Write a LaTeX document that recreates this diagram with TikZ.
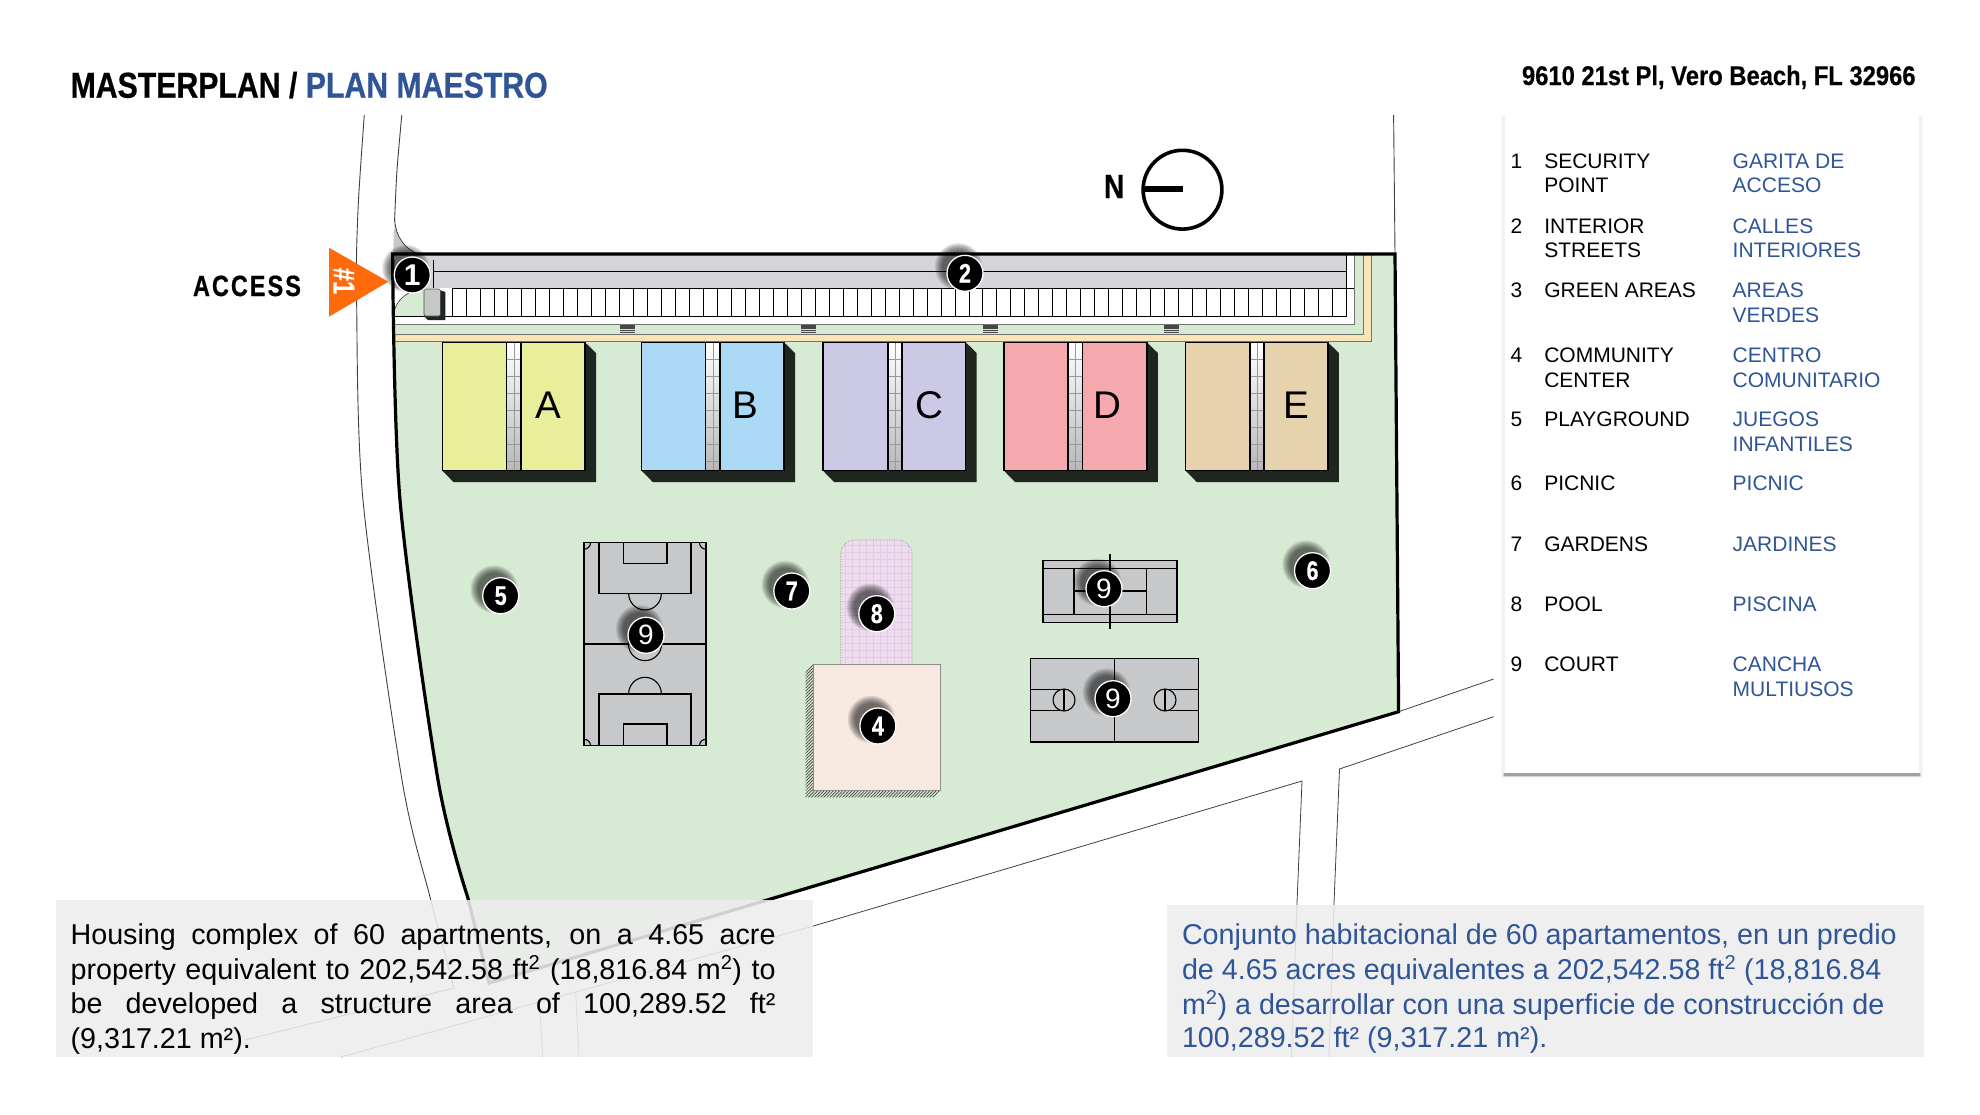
\documentclass[tikz,border=0pt]{standalone}
\usepackage{fontspec}
\setmainfont{Liberation Sans}
\newfontfamily\ttlfont[FakeStretch=0.84,BoldFeatures={FakeBold=0.6}]{Liberation Sans}
\newfontfamily\addrfont[FakeStretch=0.88,BoldFeatures={FakeBold=0.4}]{Liberation Sans}
\newfontfamily\accfont[FakeStretch=0.8,LetterSpace=7,BoldFeatures={FakeBold=0.5}]{Liberation Sans}
\newfontfamily\digfont[FakeStretch=0.8,BoldFeatures={FakeBold=0.5}]{Liberation Sans}
\usetikzlibrary{patterns.meta}
\definecolor{blueTxt}{HTML}{2F5597}
\definecolor{lawn}{HTML}{D7EAD3}
\definecolor{court}{HTML}{C6C8CA}
\definecolor{band}{HTML}{D5D5D9}
\definecolor{sand}{HTML}{FBE5B8}
\definecolor{orangeArrow}{HTML}{FF6A0D}
\definecolor{panelGray}{HTML}{EDEDEE}
\definecolor{shadowDark}{HTML}{1F2620}
\definecolor{bldgA}{HTML}{E9EE9A}
\definecolor{bldgB}{HTML}{ABD9F5}
\definecolor{bldgC}{HTML}{CBC9E6}
\definecolor{bldgD}{HTML}{F5A8AE}
\definecolor{bldgE}{HTML}{E7D2AE}
\definecolor{poolFill}{HTML}{EFDDEF}
\definecolor{poolGrid}{HTML}{E2CCE4}
\definecolor{centerFill}{HTML}{F7E9DF}
\tikzset{
  txt/.style={anchor=base west,inner sep=0pt,outer sep=0pt},
  legk/.style={txt,font=\fontsize{21}{24}\selectfont},
  legb/.style={legk,text=blueTxt},
  body/.style={txt,font=\fontsize{28.7}{34}\selectfont},
  roadline/.style={draw=black!75,line width=.9pt},
  courtline/.style={draw=black,line width=1.4pt},
  numdot/.style={circle,fill=black,draw=white,line width=1.3pt,minimum size=36pt,inner sep=0pt,text=white}
}
\newcommand{\building}[8]{%
  \fill[shadowDark] (#4,342.3)--(#4+11,353)--(#4+11,482)--(#1+11,482)--(#1,470.7)--cycle;
  \fill[#5] (#1,342.3) rectangle (#4,470.7);
  \shade[top color=white,bottom color=black!28] (#2,342.3) rectangle (#3,470.7);
  \foreach \yy in {359,376,393,410,427,444,461}
    \draw[black!40,line width=.5pt] (#2,\yy)--(#3,\yy);
  \draw[black!40,line width=.5pt] ({(#2+#3)/2},342.3)--({(#2+#3)/2},470.7);
  \draw[black,line width=1.5pt] (#2,342.3)--(#2,470.7) (#3,342.3)--(#3,470.7);
  \draw[black,line width=1.5pt] (#1,342.3) rectangle (#4,470.7);
  \node[inner sep=0pt,font=\fontsize{38.6}{40}\selectfont] (#8) at (#7,405) {#6};
}
\newcommand{\stair}[1]{%
  \fill[black!72] (#1,325) rectangle (#1+14.5,333);
  \draw[white!85!black,line width=.6pt] (#1,329)--(#1+14.5,329) (#1,331.2)--(#1+14.5,331.2);
}
\newcommand{\marker}[4]{%
  \foreach \rr in {24,23.5,23,22.5,22,21.5,21,20.5,20,19.5,19,18.5,18,17.5,17,16.5,16}
    \fill[black,fill opacity=.045] (#2-6.5,#3-6.5) circle (\rr);
  \node[numdot,font=\fontsize{27}{28}\selectfont\bfseries] (#1) at (#2,#3) {#4};
}
\begin{document}
\begin{tikzpicture}[x=1pt,y=-1pt]
\useasboundingbox (0,0) rectangle (1980,1114);
\fill[white] (0,0) rectangle (1980,1114);

% road lines
\draw[roadline] plot[smooth] coordinates {(364.3,115)(358,210)(356.6,300)(363,500)(402,780)(430,897)(454,988)} -- (245,1040);
\draw[roadline] plot[smooth] coordinates {(401.8,115)(397,170)(394.5,222)};
\draw[roadline] (1393.6,115)--(1395,254);
\draw[roadline,line width=.8pt] (1398.6,711.7)--(1493.6,679);
\draw[roadline,line width=.8pt] (1493.6,716.7)--(1339.5,769)--(1334,903)--(1329,1057);
\draw[roadline,line width=.8pt] (341,1057)--(810,927)--(1302,781)--(1297,903)--(1291.5,1057);
\draw[roadline,line width=.6pt] (540,1013)--(542.6,1057);
\draw[roadline,line width=.6pt] (575.7,993)--(579,1057);
% fillet at access
\fill[black!22] (394.7,220) .. controls (396,238) and (406,250) .. (418.6,254) -- (393,254) -- cycle;
\draw[black!80,line width=.7pt] (394.7,220) .. controls (396,238) and (406,250) .. (418.6,254);

% the plot
\fill[lawn] (1395,254)--(1398.6,711.7)--(489,983)-- plot[smooth] coordinates {(467.6,897)(438,780)(400,500)(392.6,254)} --cycle;

% street strips
\fill[sand] (394,254) rectangle (1371,341.5);
\draw[black!55,line width=.8pt] (1371,254)--(1371,341.5)--(394,341.5);
\fill[lawn] (394,254) rectangle (1363,334);
\draw[black!55,line width=.8pt] (1363,254)--(1363,334)--(394,334);
\fill[white] (394,254) rectangle (1354,324.5);
\draw[black!55,line width=.8pt] (1354,254)--(1354,324.5)--(394,324.5);
\fill[band] (394,254) rectangle (1346,288);
\draw[black,line width=.7pt] (433,271.7)--(1346,271.7);
\draw[black,line width=.9pt] (433,260)--(433,288);
\draw[black,line width=.7pt] (1346,254)--(1346,316.7);
\draw[black,line width=.7pt] (452,288)--(1354,288);
\fill[lawn] (394,288) rectangle (424,316.7);
\fill[white] (394,288) -- (411,292) .. controls (402,296) and (395,304) .. (394,313) -- cycle;
\draw[black!80,line width=.6pt] (411,292) .. controls (402,296) and (395,304) .. (394,313);
\draw[black,line width=.7pt] (394,316.7)--(1346,316.7);
\foreach \i in {0,...,64}
  \draw[black,line width=.8pt] ({452+\i*13.97},288)--({452+\i*13.97},316.7);
% guard booth
\fill[shadowDark] (436,289)--(445.4,292)--(445.4,320)--(428,320)--(424,316)--cycle;
\fill[black!22,draw=black!70,line width=.6pt,rounded corners=1.5pt] (424,289) rectangle (440.5,316);
\stair{620}\stair{801}\stair{983}\stair{1164}

% buildings
\building{442.4}{506.7}{521.2}{585}{bldgA}{A}{548.8}{bldA}
\building{641.7}{705.7}{720}{784}{bldgB}{B}{745}{bldB}
\building{823}{888}{902}{965.7}{bldgC}{C}{929}{bldC}
\building{1004}{1068}{1082.5}{1146.8}{bldgD}{D}{1107.9}{bldD}
\building{1185.7}{1250}{1264}{1327.9}{bldgE}{E}{1296.8}{bldE}

% soccer field
\fill[court] (584,542.7) rectangle (706,745.7);
\begin{scope}[courtline]
\draw (584,542.7) rectangle (706,745.7);
\draw (584,644)--(706,644);
\draw (599,542.7)--(599,593.3)--(691,593.3)--(691,542.7);
\draw (623.6,542.7)--(623.6,563.3)--(667,563.3)--(667,542.7);
\draw (599,745.7)--(599,694)--(691,694)--(691,745.7);
\draw (623.6,745.7)--(623.6,724)--(667,724)--(667,745.7);
\draw[line width=1.1pt] (628.6,593.3) .. controls (628.6,602.5) and (636,610) .. (645,610) .. controls (654,610) and (661.4,602.5) .. (661.4,593.3);
\draw[line width=1.1pt] (628.6,694) .. controls (628.6,684.8) and (636,677.3) .. (645,677.3) .. controls (654,677.3) and (661.4,684.8) .. (661.4,694);
\draw[line width=1.1pt] (645,644) circle (16.6);
\draw[line width=1.1pt] (590.5,542.7) .. controls (590.5,546.3) and (587.6,549.2) .. (584,549.2);
\draw[line width=1.1pt] (699.5,542.7) .. controls (699.5,546.3) and (702.4,549.2) .. (706,549.2);
\draw[line width=1.1pt] (590.5,745.7) .. controls (590.5,742.1) and (587.6,739.2) .. (584,739.2);
\draw[line width=1.1pt] (699.5,745.7) .. controls (699.5,742.1) and (702.4,739.2) .. (706,739.2);
\end{scope}

% pool
\begin{scope}
\clip[rounded corners=14pt] (840.7,690) -- (840.7,540) -- (912,540) -- (912,690) -- cycle;
\fill[poolFill] (835,535) rectangle (920,670);
\foreach \gx in {845,852,...,912} \draw[poolGrid,line width=.5pt] (\gx,535)--(\gx,670);
\foreach \gy in {545,552,...,664} \draw[poolGrid,line width=.5pt] (835,\gy)--(920,\gy);
\end{scope}
\draw[black!45,line width=.6pt,rounded corners=14pt,densely dotted] (840.7,664) -- (840.7,540) -- (912,540) -- (912,664);

% community center
\fill[pattern={Lines[angle=45,distance=2.2pt,line width=.7pt]},pattern color=black!75] (813,664)--(805.7,671)--(805.7,797.3)--(934,797.3)--(940.4,790)--cycle;
\fill[centerFill,draw=black!45,line width=.7pt] (813,664) rectangle (940.4,790);

% tennis
\fill[court] (1043,560.7) rectangle (1176.8,622.7);
\begin{scope}[courtline]
\draw (1043,560.7) rectangle (1176.8,622.7);
\draw (1043,568.7)--(1176.8,568.7) (1043,614.7)--(1176.8,614.7);
\draw (1074,568.7)--(1074,614.7) (1146.4,568.7)--(1146.4,614.7);
\draw (1074,591)--(1146.4,591);
\draw (1110,554)--(1110,629.3);
\end{scope}

% basketball
\fill[court] (1030.4,658.3) rectangle (1198.6,742);
\begin{scope}[courtline]
\draw (1030.4,658.3) rectangle (1198.6,742);
\draw (1114.3,658.3)--(1114.3,742);
\draw (1030.4,689.3)--(1064,689.3) (1030.4,710.3)--(1064,710.3);
\draw (1198.6,689.3)--(1162,689.3) (1198.6,710.3)--(1162,710.3);
\draw[line width=1.1pt] (1064,700) circle (11);
\draw[line width=1.1pt] (1165,700) circle (11);
\draw[line width=1.1pt] (1064,689)--(1064,711) (1165,689)--(1165,711);
\end{scope}

% outline of the plot
\draw[black,line width=3.2pt,line join=miter] (392.6,254)--(1395,254)--(1398.6,711.7)--(489,983)-- plot[smooth] coordinates {(467.6,897)(438,780)(400,500)(392.6,254)} --cycle;

% markers
\marker{mOne}{412.3}{275}{\fontsize{30}{30}\selectfont 1}
\marker{mTwo}{965}{273.3}{\digfont 2}
\marker{mFive}{500.7}{595.7}{\digfont 5}
\marker{mNineA}{646}{635.3}{\fontsize{28}{28}\selectfont\mdseries 9}
\marker{mSeven}{791.8}{591}{\digfont 7}
\marker{mEight}{876.8}{613.7}{\digfont 8}
\marker{mFour}{877.9}{726}{\digfont 4}
\marker{mNineB}{1104}{588.7}{\fontsize{28}{28}\selectfont\mdseries 9}
\marker{mSix}{1312.5}{570.7}{\digfont 6}
\marker{mNineC}{1113}{698.7}{\fontsize{28}{28}\selectfont\mdseries 9}

% access
\fill[orangeArrow] (329,247.7)--(388.3,281.7)--(329,316.7)--cycle;
\node[inner sep=0pt,rotate=-90,text=white,font=\fontsize{30}{32}\selectfont\digfont\bfseries] (accNum) at (344,281) {\#1};
\node[txt,font=\fontsize{29.3}{32}\selectfont\accfont\bfseries] (accLabel) at (193,296) {ACCESS};

% north
\node[txt,font=\fontsize{33.5}{36}\selectfont\ttlfont\bfseries] (northN) at (1104,198) {N};
\draw[black,line width=3.6pt] (1182.5,189.7) circle (39.4);
\draw[black,line width=5.5pt] (1142,189)--(1182.5,189);

% titles
\node[txt,font=\fontsize{36}{40}\selectfont\ttlfont\bfseries] (title) at (70.6,97.7) {MASTERPLAN / \textcolor{blueTxt}{PLAN MAESTRO}};
\node[txt,font=\fontsize{27}{30}\selectfont\addrfont\bfseries] (addr) at (1522,85) {9610 21st Pl, Vero Beach, FL 32966};

% legend panel
\foreach \e/\o in {5/.012,4/.016,3/.022}
  \fill[black,fill opacity=\o] (1504.7-\e,116) rectangle (1919+\e,773+\e);
\fill[black,fill opacity=.14] (1503,773) rectangle (1920.5,777);
\fill[black,fill opacity=.22] (1504,773) rectangle (1919.5,775.5);
\fill[white] (1504.7,112.5) rectangle (1919,773);
\node[legk] (n1) at (1510.7,168.3) {1};
\node[legk] (k1a) at (1544.3,168.3) {SECURITY};
\node[legk] (k1b) at (1544.3,192.9) {POINT};
\node[legb] (s1a) at (1732.7,168.3) {GARITA DE};
\node[legb] (s1b) at (1732.7,192.9) {ACCESO};
\node[legk] (n2) at (1510.7,233) {2};
\node[legk] (k2a) at (1544.3,233) {INTERIOR};
\node[legk] (k2b) at (1544.3,257.6) {STREETS};
\node[legb] (s2a) at (1732.7,233) {CALLES};
\node[legb] (s2b) at (1732.7,257.6) {INTERIORES};
\node[legk] (n3) at (1510.7,297.8) {3};
\node[legk] (k3a) at (1544.3,297.8) {GREEN AREAS};
\node[legb] (s3a) at (1732.7,297.8) {AREAS};
\node[legb] (s3b) at (1732.7,322.8) {VERDES};
\node[legk] (n4) at (1510.7,362) {4};
\node[legk] (k4a) at (1544.3,362) {COMMUNITY};
\node[legk] (k4b) at (1544.3,387) {CENTER};
\node[legb] (s4a) at (1732.7,362) {CENTRO};
\node[legb] (s4b) at (1732.7,387) {COMUNITARIO};
\node[legk] (n5) at (1510.7,426.3) {5};
\node[legk] (k5a) at (1544.3,426.3) {PLAYGROUND};
\node[legb] (s5a) at (1732.7,426.3) {JUEGOS};
\node[legb] (s5b) at (1732.7,451.3) {INFANTILES};
\node[legk] (n6) at (1510.7,490) {6};
\node[legk] (k6a) at (1544.3,490) {PICNIC};
\node[legb] (s6a) at (1732.7,490) {PICNIC};
\node[legk] (n7) at (1510.7,551) {7};
\node[legk] (k7a) at (1544.3,551) {GARDENS};
\node[legb] (s7a) at (1732.7,551) {JARDINES};
\node[legk] (n8) at (1510.7,611) {8};
\node[legk] (k8a) at (1544.3,611) {POOL};
\node[legb] (s8a) at (1732.7,611) {PISCINA};
\node[legk] (n9) at (1510.7,671.4) {9};
\node[legk] (k9a) at (1544.3,671.4) {COURT};
\node[legb] (s9a) at (1732.7,671.4) {CANCHA};
\node[legb] (s9b) at (1732.7,696.4) {MULTIUSOS};

% text panels
\fill[panelGray,fill opacity=.88] (56.3,900) rectangle (813,1057);
\fill[panelGray,fill opacity=.88] (1166.5,905) rectangle (1923.7,1057);
\node[body] (en1) at (70.6,944) {\makebox[705pt][s]{Housing complex of 60 apartments, on a 4.65 acre}};
\node[body] (en2) at (70.6,979) {\makebox[705pt][s]{property equivalent to 202,542.58 ft\textsuperscript{2} (18,816.84 m\textsuperscript{2}) to}};
\node[body] (en3) at (70.6,1013.5) {\makebox[705pt][s]{be developed a structure area of 100,289.52 ft²}};
\node[body] (en4) at (70.6,1048) {(9,317.21 m²).};
\node[body,text=blueTxt] (es1) at (1182,944) {Conjunto habitacional de 60 apartamentos, en un predio};
\node[body,text=blueTxt] (es2) at (1182,979) {de 4.65 acres equivalentes a 202,542.58 ft\textsuperscript{2} (18,816.84};
\node[body,text=blueTxt] (es3) at (1182,1014) {m\textsuperscript{2}) a desarrollar con una superficie de construcción de};
\node[body,text=blueTxt] (es4) at (1182,1047.5) {100,289.52 ft² (9,317.21 m²).};
\end{tikzpicture}
\end{document}
